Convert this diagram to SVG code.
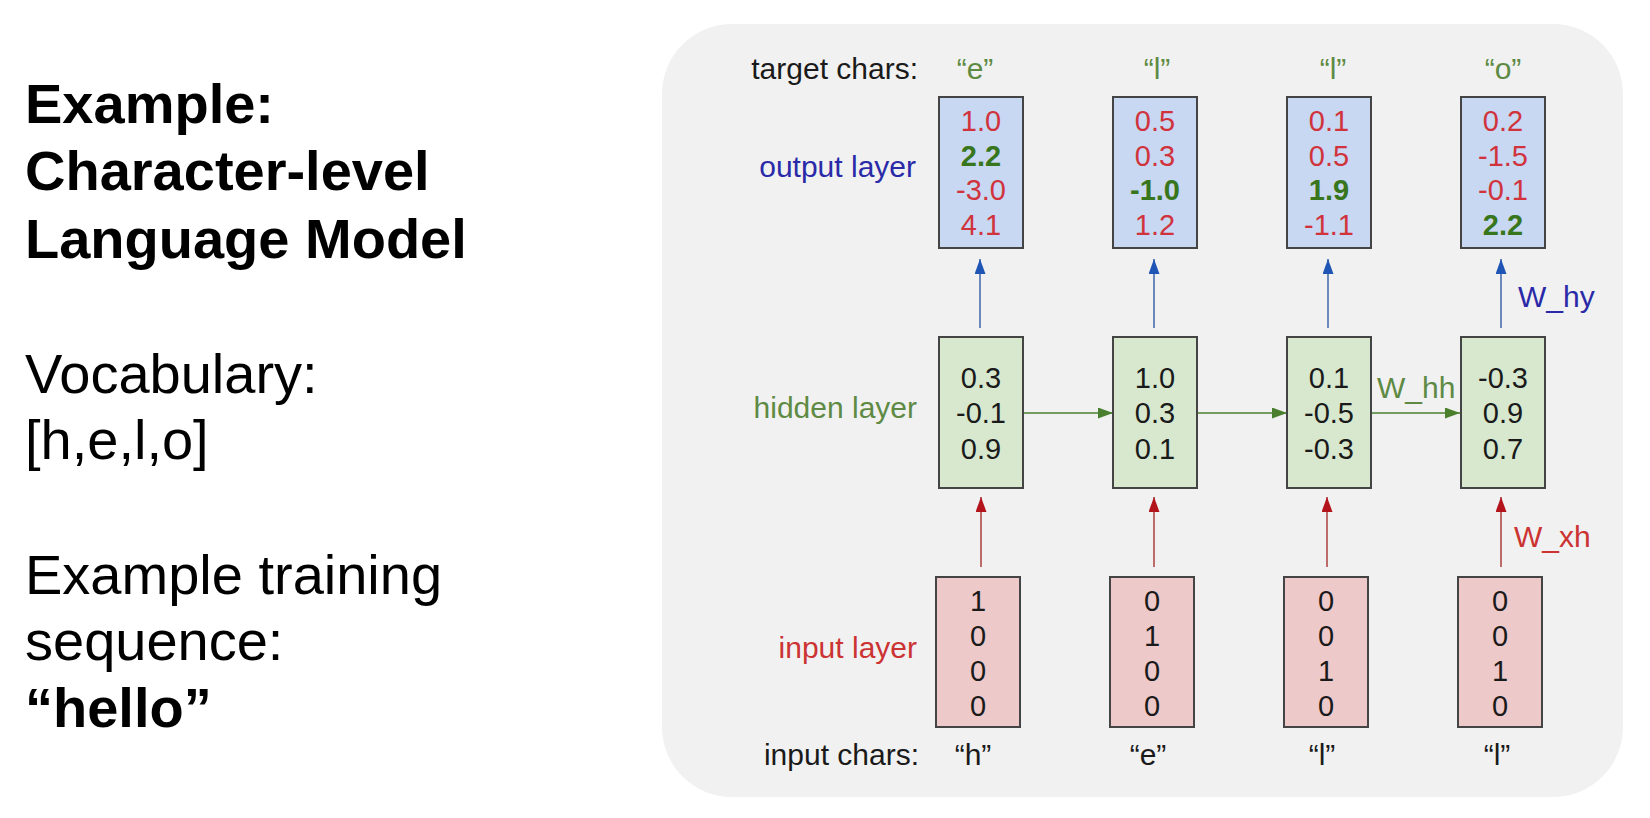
<svg xmlns="http://www.w3.org/2000/svg" width="1650" height="818" viewBox="0 0 1650 818">
<style>
text{font-family:"Liberation Sans",Arial,sans-serif}
.title{font-size:56px;font-weight:bold;fill:#000}
.body{font-size:56px;fill:#000}
.lbl{font-size:30px;text-anchor:end}
.ch{font-size:30px;text-anchor:middle}
.num{font-size:29px;text-anchor:middle}
.red{fill:#d0333c}
.grn{fill:#38761d;font-weight:bold}
.blk{fill:#1a1a1a}
.out{fill:#c8d7f2;stroke:#444;stroke-width:2}
.hid{fill:#d7e8cf;stroke:#444;stroke-width:2}
.inp{fill:#eec9c9;stroke:#444;stroke-width:2}
.w{font-size:30px}
</style>
<defs>
<marker id="ab" markerUnits="userSpaceOnUse" markerWidth="15" markerHeight="11" refX="15" refY="5.5" orient="auto"><path d="M0,0 L15,5.5 L0,11 z" fill="#1f55b5"/></marker>
<marker id="ar" markerUnits="userSpaceOnUse" markerWidth="15" markerHeight="11" refX="15" refY="5.5" orient="auto"><path d="M0,0 L15,5.5 L0,11 z" fill="#b3141c"/></marker>
<marker id="ag" markerUnits="userSpaceOnUse" markerWidth="15" markerHeight="11" refX="15" refY="5.5" orient="auto"><path d="M0,0 L15,5.5 L0,11 z" fill="#4a7f2e"/></marker>
</defs>
<rect width="1650" height="818" fill="#fff"/>
<g id="left-text">
<text class="title" x="25" y="123">Example:</text>
<text class="title" x="25" y="190">Character-level</text>
<text class="title" x="25" y="258">Language Model</text>
<text class="body" x="25" y="393">Vocabulary:</text>
<text class="body" x="25" y="459">[h,e,l,o]</text>
<text class="body" x="25" y="594">Example training</text>
<text class="body" x="25" y="660">sequence:</text>
<text class="title" x="25" y="727">“hello”</text>
</g>
<rect id="panel" x="662" y="24" width="961" height="773" rx="70" fill="#f1f1f1"/>
<g id="row-labels">
<text class="lbl" x="918" y="79" fill="#1a1a1a">target chars:</text>
<text class="lbl" x="916" y="177" fill="#2a2aa8">output layer</text>
<text class="lbl" x="917" y="418" fill="#5e8a44">hidden layer</text>
<text class="lbl" x="917" y="658" fill="#cc3333">input layer</text>
<text class="lbl" x="919" y="765" fill="#1a1a1a">input chars:</text>
</g>
<g id="target-chars" fill="#5e8a44">
<text class="ch" x="975" y="79">“e”</text>
<text class="ch" x="1157" y="79">“l”</text>
<text class="ch" x="1333" y="79">“l”</text>
<text class="ch" x="1503" y="79">“o”</text>
</g>
<g id="input-chars" fill="#1a1a1a">
<text class="ch" x="973" y="765">“h”</text>
<text class="ch" x="1148" y="765">“e”</text>
<text class="ch" x="1322" y="765">“l”</text>
<text class="ch" x="1497" y="765">“l”</text>
</g>
<g id="connectors" fill="none" stroke-width="1.6">
<g stroke="#4a6fb0">
<line x1="980" y1="328" x2="980" y2="259" marker-end="url(#ab)"/>
<line x1="1154" y1="328" x2="1154" y2="259" marker-end="url(#ab)"/>
<line x1="1328" y1="328" x2="1328" y2="259" marker-end="url(#ab)"/>
<line x1="1501" y1="328" x2="1501" y2="259" marker-end="url(#ab)"/>
</g>
<g stroke="#b04a4a">
<line x1="981" y1="567" x2="981" y2="497" marker-end="url(#ar)"/>
<line x1="1154" y1="567" x2="1154" y2="497" marker-end="url(#ar)"/>
<line x1="1327" y1="567" x2="1327" y2="497" marker-end="url(#ar)"/>
<line x1="1501" y1="567" x2="1501" y2="497" marker-end="url(#ar)"/>
</g>
<g stroke="#4a7f2e">
<line x1="1024" y1="413" x2="1113" y2="413" marker-end="url(#ag)"/>
<line x1="1198" y1="413" x2="1287" y2="413" marker-end="url(#ag)"/>
<line x1="1371" y1="413" x2="1460" y2="413" marker-end="url(#ag)"/>
</g>
</g>
<g id="weight-labels" class="w">
<text x="1518" y="307" fill="#2a2aa8" font-size="30">W_hy</text>
<text x="1377" y="398" fill="#5e8a44" font-size="30">W_hh</text>
<text x="1514" y="547" fill="#cc3333" font-size="30">W_xh</text>
</g>
<g id="output-1"><rect class="out" x="939" y="97" width="84" height="151"/>
<text class="num red" x="981" y="131">1.0</text><text class="num grn" x="981" y="166">2.2</text><text class="num red" x="981" y="200">-3.0</text><text class="num red" x="981" y="235">4.1</text></g>
<g id="output-2"><rect class="out" x="1113" y="97" width="84" height="151"/>
<text class="num red" x="1155" y="131">0.5</text><text class="num red" x="1155" y="166">0.3</text><text class="num grn" x="1155" y="200">-1.0</text><text class="num red" x="1155" y="235">1.2</text></g>
<g id="output-3"><rect class="out" x="1287" y="97" width="84" height="151"/>
<text class="num red" x="1329" y="131">0.1</text><text class="num red" x="1329" y="166">0.5</text><text class="num grn" x="1329" y="200">1.9</text><text class="num red" x="1329" y="235">-1.1</text></g>
<g id="output-4"><rect class="out" x="1461" y="97" width="84" height="151"/>
<text class="num red" x="1503" y="131">0.2</text><text class="num red" x="1503" y="166">-1.5</text><text class="num red" x="1503" y="200">-0.1</text><text class="num grn" x="1503" y="235">2.2</text></g>
<g id="hidden-1"><rect class="hid" x="939" y="337" width="84" height="151"/>
<text class="num blk" x="981" y="388">0.3</text><text class="num blk" x="981" y="423">-0.1</text><text class="num blk" x="981" y="459">0.9</text></g>
<g id="hidden-2"><rect class="hid" x="1113" y="337" width="84" height="151"/>
<text class="num blk" x="1155" y="388">1.0</text><text class="num blk" x="1155" y="423">0.3</text><text class="num blk" x="1155" y="459">0.1</text></g>
<g id="hidden-3"><rect class="hid" x="1287" y="337" width="84" height="151"/>
<text class="num blk" x="1329" y="388">0.1</text><text class="num blk" x="1329" y="423">-0.5</text><text class="num blk" x="1329" y="459">-0.3</text></g>
<g id="hidden-4"><rect class="hid" x="1461" y="337" width="84" height="151"/>
<text class="num blk" x="1503" y="388">-0.3</text><text class="num blk" x="1503" y="423">0.9</text><text class="num blk" x="1503" y="459">0.7</text></g>
<g id="input-1"><rect class="inp" x="936" y="577" width="84" height="150"/>
<text class="num blk" x="978" y="611">1</text><text class="num blk" x="978" y="646">0</text><text class="num blk" x="978" y="681">0</text><text class="num blk" x="978" y="716">0</text></g>
<g id="input-2"><rect class="inp" x="1110" y="577" width="84" height="150"/>
<text class="num blk" x="1152" y="611">0</text><text class="num blk" x="1152" y="646">1</text><text class="num blk" x="1152" y="681">0</text><text class="num blk" x="1152" y="716">0</text></g>
<g id="input-3"><rect class="inp" x="1284" y="577" width="84" height="150"/>
<text class="num blk" x="1326" y="611">0</text><text class="num blk" x="1326" y="646">0</text><text class="num blk" x="1326" y="681">1</text><text class="num blk" x="1326" y="716">0</text></g>
<g id="input-4"><rect class="inp" x="1458" y="577" width="84" height="150"/>
<text class="num blk" x="1500" y="611">0</text><text class="num blk" x="1500" y="646">0</text><text class="num blk" x="1500" y="681">1</text><text class="num blk" x="1500" y="716">0</text></g>
</svg>
